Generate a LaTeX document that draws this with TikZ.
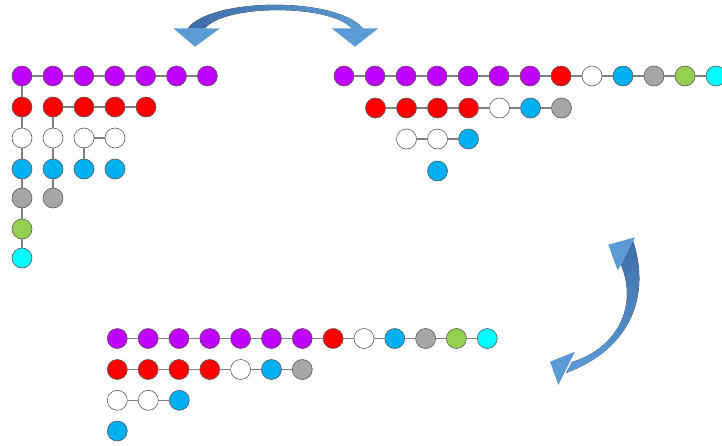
\documentclass[tikz,border=0pt]{standalone}
\definecolor{cpu}{HTML}{C000FF}
\definecolor{cre}{HTML}{FF0000}
\definecolor{cbl}{HTML}{00B0F0}
\definecolor{cgr}{HTML}{A6A6A6}
\definecolor{cgn}{HTML}{92D050}
\definecolor{ccy}{HTML}{00FFFF}
\definecolor{arrblue}{HTML}{5B9BD5}
\definecolor{arrdark}{HTML}{3E6DA6}
\tikzset{
  ball/.style={circle, minimum size=20pt, inner sep=0pt, draw=black!65, line width=0.6pt},
  pu/.style={ball, fill=cpu},
  re/.style={ball, fill=cre},
  wh/.style={ball, fill=white},
  bl/.style={ball, fill=cbl},
  gr/.style={ball, fill=cgr},
  gn/.style={ball, fill=cgn},
  cy/.style={ball, fill=ccy},
  link/.style={draw=black!50, line width=1.1pt},
  arrhead/.style={fill=arrblue, draw=none},
}
\begin{document}
\begin{tikzpicture}[x=1pt,y=-1pt]
\useasboundingbox (0,0) rectangle (722,445);
\clip (0,0) rectangle (722,445);

% ---------- top-left tree ----------
\foreach \c [count=\i] in {pu,pu,pu,pu,pu,pu,pu}
  \node[\c] (L\i) at ({22+30.9*(\i-1)},76) {};
\foreach \c/\y/\n in {re/107/a,wh/138/b,bl/169/c,gr/198/d,gn/229/e,cy/258/f}
  \node[\c] (L\n) at (22,\y) {};
\foreach \c/\y/\n in {re/107/a,wh/138/b,bl/169/c,gr/198/d}
  \node[\c] (M\n) at (53,\y) {};
\node[re] (Na) at (84,107) {};
\node[re] (Nb) at (115,107) {};
\node[re] (Nc) at (146,107) {};
\node[wh] (Wa) at (84,138) {};
\node[wh] (Wb) at (115,138) {};
\node[bl] (Ba) at (84,169) {};
\node[bl] (Bb) at (115,169) {};
\foreach \a/\b in {L1/L2,L2/L3,L3/L4,L4/L5,L5/L6,L6/L7,
                   L1/La,La/Lb,Lb/Lc,Lc/Ld,Ld/Le,Le/Lf,
                   Ma/Mb,Mb/Mc,Mc/Md,Ma/Na,Na/Nb,Nb/Nc,
                   Wa/Wb,Wa/Ba}
  \draw[link] (\a) -- (\b);

% ---------- top-right rows ----------
\foreach \c [count=\i] in {pu,pu,pu,pu,pu,pu,pu,re,wh,bl,gr,gn,cy}
  \node[\c] (R\i) at ({344+31*(\i-1)},76) {};
\foreach \c [count=\i] in {re,re,re,re,wh,bl,gr}
  \node[\c] (S\i) at ({375.5+31*(\i-1)},108) {};
\foreach \c [count=\i] in {wh,wh,bl}
  \node[\c] (T\i) at ({406.5+31*(\i-1)},139) {};
\node[bl] (U1) at (437.5,171) {};
\foreach \i in {1,...,12}{\pgfmathtruncatemacro\j{\i+1}\draw[link] (R\i) -- (R\j);}
\foreach \i in {1,...,6}{\pgfmathtruncatemacro\j{\i+1}\draw[link] (S\i) -- (S\j);}
\draw[link] (T1) -- (T2);
\draw[link] (T2) -- (T3);

% ---------- bottom rows ----------
\foreach \c [count=\i] in {pu,pu,pu,pu,pu,pu,pu,re,wh,bl,gr,gn,cy}
  \node[\c] (Q\i) at ({117.3+30.83*(\i-1)},338.5) {};
\foreach \c [count=\i] in {re,re,re,re,wh,bl,gr}
  \node[\c] (P\i) at ({117.3+30.83*(\i-1)},369.5) {};
\foreach \c [count=\i] in {wh,wh,bl}
  \node[\c] (O\i) at ({117.3+31*(\i-1)},400.3) {};
\node[bl] (V1) at (117.3,431) {};
\foreach \i in {1,...,12}{\pgfmathtruncatemacro\j{\i+1}\draw[link] (Q\i) -- (Q\j);}
\foreach \i in {1,...,6}{\pgfmathtruncatemacro\j{\i+1}\draw[link] (P\i) -- (P\j);}
\draw[link] (O1) -- (O2);
\draw[link] (O2) -- (O3);

% ---------- top curved double arrow ----------
\fill[left color=arrdark, right color=arrblue]
  (188,28.3) .. controls (210,-2) and (335,-4) .. (363,28.3)
  -- (351.7,28.3) .. controls (330,4) and (225,4) .. (205,28.3) -- cycle;
\fill[arrhead] (173.3,28.3) -- (220,28.3) -- (195,46.7) -- cycle;
\fill[arrhead] (331.7,28.3) -- (378.3,28.3) -- (355,46.7) -- cycle;

% ---------- right curved double arrow ----------
\fill[top color=arrdark, bottom color=arrblue]
  (633,241) .. controls (648,285) and (640,345) .. (566,373)
  -- (572,362) .. controls (618,348) and (638,305) .. (621,265) -- cycle;
\fill[arrhead] (608.3,244.7) -- (635,237.3) -- (617.7,270.7) -- cycle;
\fill[arrhead] (550,361.7) -- (575,351.7) -- (558.3,385) -- cycle;
\end{tikzpicture}
\end{document}
